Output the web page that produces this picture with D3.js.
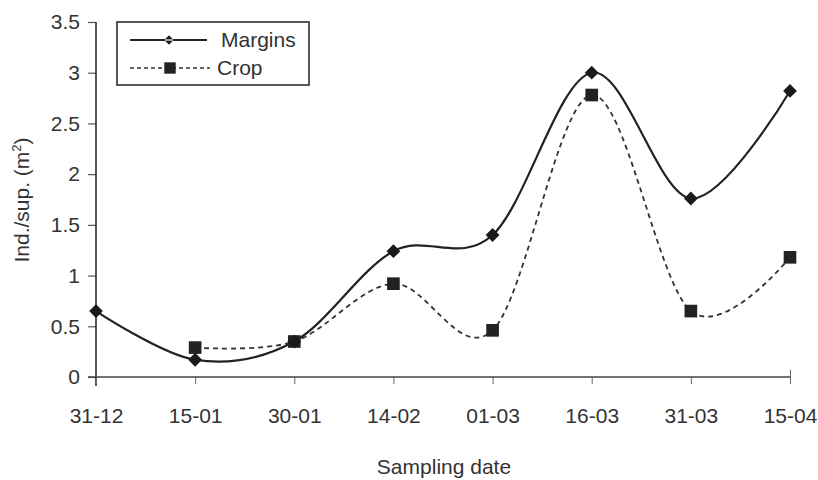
<!DOCTYPE html>
<html>
<head>
<meta charset="utf-8">
<script src="https://cdn.jsdelivr.net/npm/d3@7"></script>
<style>
  html, body { margin: 0; padding: 0; background: #fff; }
  svg { display: block; }
  text { font-family: "Liberation Sans", Arial, sans-serif; fill: #333; }
</style>
</head>
<body>
<svg id="chart" width="818" height="480"></svg>
<script>
const categories = ["31-12", "15-01", "30-01", "14-02", "01-03", "16-03", "31-03", "15-04"];
const marginsValues = [0.65, 0.17, 0.35, 1.24, 1.40, 3.00, 1.76, 2.82];
const cropDates = ["15-01", "30-01", "14-02", "01-03", "16-03", "31-03", "15-04"];
const cropValues = [0.29, 0.35, 0.92, 0.46, 2.78, 0.65, 1.18];
const yTicks = [0, 0.5, 1, 1.5, 2, 2.5, 3, 3.5];
const seriesNames = ["Margins", "Crop"];
const xTitle = "Sampling date";

const svg = d3.select("#chart");
const x = d3.scalePoint().domain(categories).range([96, 790]);
const y = d3.scaleLinear().domain([0, 3.5]).range([377, 22]);

const ink = "#222";
const fs = 21;

// Y axis
const yAxis = svg.append("g").attr("transform", "translate(96,0)")
  .call(d3.axisLeft(y).tickValues(yTicks).tickSize(8).tickPadding(8).tickFormat(d3.format("")));
yAxis.select(".domain").remove();
yAxis.selectAll(".tick line").attr("stroke", "#555").attr("stroke-width", 1.2);
yAxis.selectAll(".tick text").attr("font-size", fs).attr("fill", "#333")
  .style("font-family", '"Liberation Sans", Arial, sans-serif');
svg.append("line").attr("x1", 96).attr("x2", 96).attr("y1", y(3.5)).attr("y2", 386)
  .attr("stroke", ink).attr("stroke-width", 1.5);

// X axis
const xAxis = svg.append("g").attr("transform", "translate(0,377)")
  .call(d3.axisBottom(x).tickSize(7).tickPadding(24));
xAxis.select(".domain").remove();
xAxis.selectAll(".tick line").attr("stroke", "#666").attr("stroke-width", 1)
  .attr("y1", (d, i) => i === categories.length - 1 ? -7 : 0);
xAxis.selectAll(".tick text").attr("font-size", fs).attr("fill", "#333")
  .style("font-family", '"Liberation Sans", Arial, sans-serif');
svg.append("line").attr("x1", 88).attr("x2", 790).attr("y1", 377).attr("y2", 377)
  .attr("stroke", "#444").attr("stroke-width", 1.5);

// Axis titles
svg.append("text").attr("x", 444).attr("y", 474).attr("text-anchor", "middle")
  .attr("font-size", fs).text(xTitle);
const yt = svg.append("text").attr("transform", "translate(29,200) rotate(-90)")
  .attr("text-anchor", "middle").attr("font-size", fs);
yt.append("tspan").text("Ind./sup. (m");
yt.append("tspan").attr("font-size", 13).attr("dy", -8).text("2");
yt.append("tspan").attr("dy", 8).text(")");

// Lines
const curve = d3.curveCatmullRom.alpha(0);
const mData = categories.map((c, i) => ({ c, v: marginsValues[i] }));
const cData = cropDates.map((c, i) => ({ c, v: cropValues[i] }));
const line = d3.line().x(d => x(d.c)).y(d => y(d.v)).curve(curve);

svg.append("path").datum(cData).attr("d", line).attr("fill", "none")
  .attr("stroke", "#333").attr("stroke-width", 1.8).attr("stroke-dasharray", "5,4");
svg.append("path").datum(mData).attr("d", line).attr("fill", "none")
  .attr("stroke", "#222").attr("stroke-width", 2.2);

// Markers
const square = d3.symbol().type(d3.symbolSquare).size(160);
svg.append("g").selectAll("path").data(cData).join("path")
  .attr("transform", d => `translate(${x(d.c)},${y(d.v)})`).attr("d", square).attr("fill", "#222");
svg.append("g").selectAll("path").data(mData).join("path")
  .attr("transform", d => `translate(${x(d.c)},${y(d.v)}) rotate(45)`)
  .attr("d", d3.symbol().type(d3.symbolSquare).size(95)).attr("fill", "#1a1a1a");

// Legend
const lg = svg.append("g");
lg.append("rect").attr("x", 117).attr("y", 22).attr("width", 192).attr("height", 63)
  .attr("fill", "#fff").attr("stroke", "#222").attr("stroke-width", 1.5);
lg.append("line").attr("x1", 130).attr("x2", 207).attr("y1", 40).attr("y2", 40)
  .attr("stroke", "#222").attr("stroke-width", 1.8);
lg.append("path").attr("transform", "translate(169,40) rotate(45)")
  .attr("d", d3.symbol().type(d3.symbolSquare).size(45)).attr("fill", "#222");
lg.append("line").attr("x1", 165).attr("x2", 173).attr("y1", 40).attr("y2", 40)
  .attr("stroke", "#fff").attr("stroke-width", 1.2);
lg.append("line").attr("x1", 130).attr("x2", 210).attr("y1", 68).attr("y2", 68)
  .attr("stroke", "#333").attr("stroke-width", 1.5).attr("stroke-dasharray", "4,3");
lg.append("path").attr("transform", "translate(170,68)")
  .attr("d", d3.symbol().type(d3.symbolSquare).size(130)).attr("fill", "#222");
lg.append("text").attr("x", 221).attr("y", 47).attr("font-size", fs).text(seriesNames[0]);
lg.append("text").attr("x", 217).attr("y", 75).attr("font-size", fs).text(seriesNames[1]);
</script>
</body>
</html>
